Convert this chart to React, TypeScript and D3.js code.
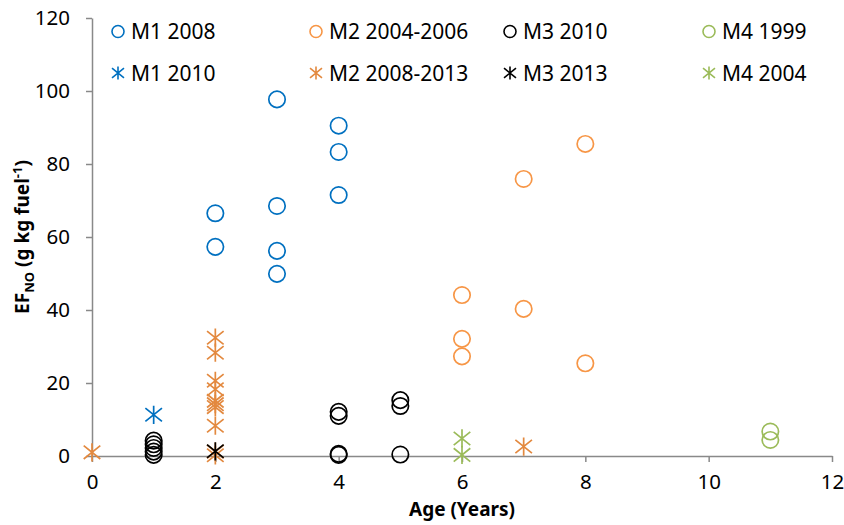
import * as d3 from "d3";
import { useEffect, useRef } from "react";

// Each series: list of [age, EF_NO] pairs
type Pt = [number, number];

interface Series {
  name: string;
  color: string;
  shape: "circle" | "star";
  points: Pt[];
}

const m1_2008: Pt[] = [
  [2, 66.5], [2, 57.3],
  [3, 97.7], [3, 68.5], [3, 56.2], [3, 49.9],
  [4, 90.5], [4, 83.3], [4, 71.5],
];
const m1_2010: Pt[] = [[1, 11.3]];
const m2_2004: Pt[] = [
  [6, 44.1], [6, 32.1], [6, 27.3],
  [7, 75.9], [7, 40.3],
  [8, 85.5], [8, 25.4],
];
const m2_2008: Pt[] = [
  [0, 1.0],
  [2, 32.4], [2, 28.3], [2, 20.6], [2, 18.3], [2, 15.1], [2, 14.2], [2, 13.4], [2, 8.3], [2, 1.2], [2, 0.2],
  [7, 2.6],
];
const m3_2010: Pt[] = [
  [1, 4.2], [1, 3.2], [1, 2.2], [1, 1.2], [1, 0.3],
  [4, 12.1], [4, 11.0], [4, 0.6], [4, 0.3],
  [5, 15.3], [5, 13.7], [5, 0.4],
];
const m3_2013: Pt[] = [[2, 1.3]];
const m4_1999: Pt[] = [[11, 6.7], [11, 4.4]];
const m4_2004: Pt[] = [[6, 4.8], [6, 0.3]];

const xTicks = [0, 2, 4, 6, 8, 10, 12];
const yTicks = [0, 20, 40, 60, 80, 100, 120];

const series: Series[] = [
  { name: "M1 2008", color: "#0070C0", shape: "circle", points: m1_2008 },
  { name: "M2 2004-2006", color: "#F79646", shape: "circle", points: m2_2004 },
  { name: "M3 2010", color: "#000000", shape: "circle", points: m3_2010 },
  { name: "M4 1999", color: "#9BBB59", shape: "circle", points: m4_1999 },
  { name: "M1 2010", color: "#0070C0", shape: "star", points: m1_2010 },
  { name: "M2 2008-2013", color: "#E3893F", shape: "star", points: m2_2008 },
  { name: "M3 2013", color: "#000000", shape: "star", points: m3_2013 },
  { name: "M4 2004", color: "#9BBB59", shape: "star", points: m4_2004 },
];

const W = 844;
const H = 525;
const FONT = "'Noto Sans', 'Open Sans', sans-serif";

// asterisk marker: vertical bar plus an X
function starPath(s: number) {
  const h = s * 1.1;
  const dx = s;
  const dy = s * 0.8;
  return `M0,${-h}L0,${h}M${-dx},${-dy}L${dx},${dy}M${-dx},${dy}L${dx},${-dy}`;
}

export default function App() {
  const svgRef = useRef<SVGSVGElement>(null);

  useEffect(() => {
    if (!svgRef.current) return;
    const svg = d3.select(svgRef.current);
    svg.selectAll("*").remove();

    const x = d3.scaleLinear().domain([0, 12]).range([92, 832]);
    const y = d3.scaleLinear().domain([0, 120]).range([456, 18]);
    const axisColor = "#898989";

    // y axis
    const yAxis = svg
      .append("g")
      .attr("transform", `translate(${x(0)},0)`)
      .call(d3.axisLeft(y).tickValues(yTicks).tickSize(6).tickPadding(16).tickSizeOuter(0));
    yAxis.select(".domain").attr("stroke", axisColor).attr("stroke-width", 1.5);
    yAxis.selectAll(".tick line").attr("stroke", axisColor).attr("stroke-width", 1.5);
    yAxis
      .selectAll(".tick text")
      .attr("fill", "#000")
      .attr("font-family", FONT)
      .attr("font-size", 20.5);

    // x axis
    const xAxis = svg
      .append("g")
      .attr("transform", `translate(0,${y(0)})`)
      .call(d3.axisBottom(x).tickValues(xTicks).tickSize(6).tickPadding(12).tickSizeOuter(0));
    xAxis.select(".domain").attr("stroke", axisColor).attr("stroke-width", 1.5);
    xAxis.selectAll(".tick line").attr("stroke", axisColor).attr("stroke-width", 1.5);
    xAxis
      .selectAll(".tick text")
      .attr("fill", "#000")
      .attr("font-family", FONT)
      .attr("font-size", 20.5);

    // axis titles
    svg
      .append("text")
      .attr("x", (x(0) + x(12)) / 2)
      .attr("y", 516)
      .attr("text-anchor", "middle")
      .attr("font-family", FONT)
      .attr("font-weight", "bold")
      .attr("font-size", 19)
      .text("Age (Years)");

    const yt = svg
      .append("text")
      .attr("transform", `translate(29,${(y(0) + y(120)) / 2}) rotate(-90)`)
      .attr("text-anchor", "middle")
      .attr("font-family", FONT)
      .attr("font-weight", "bold")
      .attr("font-size", 19);
    yt.append("tspan").text("EF");
    yt.append("tspan").attr("font-size", 13).attr("dy", 5).text("NO");
    yt.append("tspan").attr("dy", -5).text(" (g kg fuel");
    yt.append("tspan").attr("font-size", 13).attr("dy", -7).text("-1");
    yt.append("tspan").attr("dy", 7).text(")");

    // data points
    series.forEach((s) => {
      const g = svg.append("g");
      if (s.shape === "circle") {
        g.selectAll("circle")
          .data(s.points)
          .enter()
          .append("circle")
          .attr("cx", (d) => x(d[0]))
          .attr("cy", (d) => y(d[1]))
          .attr("r", 8.2)
          .attr("fill", "none")
          .attr("stroke", s.color)
          .attr("stroke-width", 1.7);
      } else {
        g.selectAll("path")
          .data(s.points)
          .enter()
          .append("path")
          .attr("transform", (d) => `translate(${x(d[0])},${y(d[1])})`)
          .attr("d", starPath(8.3))
          .attr("fill", "none")
          .attr("stroke", s.color)
          .attr("stroke-width", 1.7);
      }
    });

    // legend: 2 rows x 4 columns
    const colX = [118, 316, 510, 709];
    const rowY = [31.5, 73];
    series.forEach((s, i) => {
      const lx = colX[i % 4];
      const ly = rowY[Math.floor(i / 4)];
      const g = svg.append("g").attr("transform", `translate(${lx},${ly})`);
      if (s.shape === "circle") {
        g.append("circle")
          .attr("r", 6)
          .attr("fill", "none")
          .attr("stroke", s.color)
          .attr("stroke-width", 1.6);
      } else {
        g.append("path")
          .attr("d", starPath(6))
          .attr("fill", "none")
          .attr("stroke", s.color)
          .attr("stroke-width", 1.6);
      }
      g.append("text")
        .attr("x", 13)
        .attr("dy", "0.36em")
        .attr("font-family", FONT)
        .attr("font-size", 21)
        .attr("fill", "#000")
        .text(s.name);
    });
  }, []);

  return (
    <svg
      ref={svgRef}
      width={W}
      height={H}
      style={{ position: "absolute", left: 0, top: 0, background: "#fff" }}
    />
  );
}
